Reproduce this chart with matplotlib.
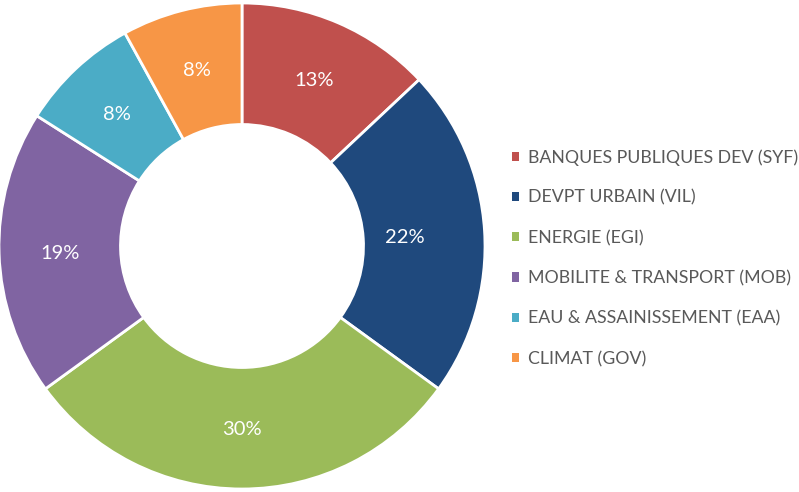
import matplotlib
matplotlib.use('Agg')
import numpy as np
import matplotlib.pyplot as plt
from matplotlib.patches import Patch

# Data
labels = ['BANQUES PUBLIQUES DEV (SYF)', 'DEVPT URBAIN (VIL)', 'ENERGIE (EGI)',
          'MOBILITE & TRANSPORT (MOB)', 'EAU & ASSAINISSEMENT (EAA)', 'CLIMAT (GOV)']
values = [13, 22, 30, 19, 8, 8]
colors = ['#C0504D', '#1F497D', '#9BBB59', '#8064A2', '#4BACC6', '#F79646']

plt.rcParams['font.family'] = ['Lato', 'DejaVu Sans']

fig = plt.figure(figsize=(7.99, 4.92), dpi=100)
W, H = 799, 492
cx, cy, r = 242, 246, 243
ax = fig.add_axes([(cx - r) / W, (H - cy - r) / H, 2 * r / W, 2 * r / H])

wedges, texts, autotexts = ax.pie(
    values, colors=colors, startangle=90, counterclock=False,
    autopct='%1.0f%%', pctdistance=0.75, radius=1,
    wedgeprops=dict(width=0.5, edgecolor='white', linewidth=2),
    textprops=dict(color='white', fontsize=14.5))
for t in autotexts:
    t.set_va('center_baseline')
# the 22% label sits a bit closer to the hole in the original
w = wedges[1]
a = np.deg2rad((w.theta1 + w.theta2) / 2)
autotexts[1].set_position((0.67 * np.cos(a), 0.67 * np.sin(a)))

ax.set_xlim(-1, 1)
ax.set_ylim(-1, 1)
ax.set_aspect('equal')

handles = [Patch(facecolor=c, edgecolor='none') for c in colors]
fig.legend(handles, labels, loc='center left', bbox_to_anchor=(496 / W, 1 - 258 / H),
           frameon=False, fontsize=12.8, labelcolor='#595959',
           handlelength=0.42, handleheight=0.42, handletextpad=0.5,
           labelspacing=1.36)

fig.savefig('out.png', dpi=100)
